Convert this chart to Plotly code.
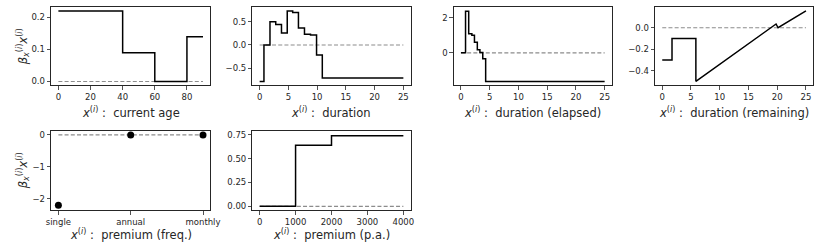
import plotly.graph_objects as go

# ---------------- data ----------------
age_edges = [0, 40, 60, 80, 90]
age_vals = [0.22, 0.09, 0.0, 0.14]

dur_edges = [0, 0.75, 1.8, 2.8, 3.8, 4.8, 5.75, 6.75, 7.8, 8.85, 9.9, 10.9, 25]
dur_vals = [-0.786, 0.0, 0.5, 0.443, 0.257, 0.73, 0.70, 0.364, 0.229, 0.214, -0.214, -0.71]

ela_edges = [0, 0.8, 1.35, 1.9, 2.35, 2.85, 3.3, 3.8, 4.3, 25]
ela_vals = [0.0, 2.36, 1.08, 1.0, 0.6, 0.17, 0.02, -0.34, -1.62]

rem_x = [0, 1.7, 1.7, 5.85, 5.85, 19.8, 20.15, 25]
rem_y = [-0.30, -0.30, -0.10, -0.10, -0.50, 0.035, 0.0, 0.157]

freq_cats = ["single", "annual", "monthly"]
freq_vals = [-2.21, 0.0, 0.0]

prem_edges = [0, 1000, 2000, 4000]
prem_vals = [0.0, 0.64, 0.74]

xlabels = ["current age", "duration", "duration (elapsed)", "duration (remaining)",
           "premium (freq.)", "premium (p.a.)"]

# ---------------- layout helpers ----------------
W, H = 831, 251
# panel boxes in page pixels: (left, right, top, bottom)
boxes = [
    (47, 209, 6, 85),
    (252, 413, 6, 85),
    (457, 618, 6, 85),
    (662, 823, 6, 85),
    (47, 209, 131, 211),
    (252, 413, 131, 211),
]
xranges = [[-4.5, 94.5], [-1.25, 26.25], [-1.25, 26.25], [-1.25, 26.25], [-0.1, 2.1], [-200, 4200]]
yranges = [[-0.012, 0.233], [-0.87, 0.82], [-1.84, 2.6], [-0.537, 0.194], [-2.37, 0.125], [-0.042, 0.79]]
xticks = [[0, 20, 40, 60, 80], [0, 5, 10, 15, 20, 25], [0, 5, 10, 15, 20, 25], [0, 5, 10, 15, 20, 25],
          [0, 1, 2], [0, 1000, 2000, 3000, 4000]]
yticks = [[0.0, 0.1, 0.2], [-0.5, 0.0, 0.5], [0, 2], [-0.4, -0.2, 0.0], [-2, -1, 0], [0.0, 0.25, 0.5, 0.75]]
ytext = [["0.0", "0.1", "0.2"], ["\u22120.5", "0.0", "0.5"], ["0", "2"], ["\u22120.4", "\u22120.2", "0.0"],
         ["\u22122", "\u22121", "0"], ["0.00", "0.25", "0.50", "0.75"]]
xtext = [None, None, None, None, freq_cats, None]

FONT = "DejaVu Sans"
TXT = "#262626"
AX = "#262626"


def px_x(p):
    return p / W


def px_y(p):
    return 1 - p / H


fig = go.Figure()


def step_xy(edges, vals):
    return edges, list(vals) + [vals[-1]]


series = [
    step_xy(age_edges, age_vals),
    step_xy(dur_edges, dur_vals),
    step_xy(ela_edges, ela_vals),
    (rem_x, rem_y),
    None,
    step_xy(prem_edges, prem_vals),
]
zero_span = [(0, 90), (0, 25), (0, 25), (0, 25), (0, 2), (0, 4000)]

for i in range(6):
    xa = "x" if i == 0 else f"x{i+1}"
    ya = "y" if i == 0 else f"y{i+1}"
    # dashed zero line
    fig.add_trace(go.Scatter(x=list(zero_span[i]), y=[0, 0], mode="lines", xaxis=xa, yaxis=ya,
                             line=dict(color="#8c8c8c", width=1.2, dash="4px,2.2px"),
                             showlegend=False, hoverinfo="skip"))
    if i == 4:
        fig.add_trace(go.Scatter(x=[0, 1, 2], y=freq_vals, mode="markers", xaxis=xa, yaxis=ya,
                                 marker=dict(color="black", size=7), cliponaxis=False,
                                 showlegend=False))
    else:
        sx, sy = series[i]
        fig.add_trace(go.Scatter(x=sx, y=sy, mode="lines", xaxis=xa, yaxis=ya,
                                 line=dict(color="black", width=1.5,
                                           shape="linear" if i == 3 else "hv"),
                                 showlegend=False))

    l, r, t, b = boxes[i]
    xkey = "xaxis" if i == 0 else f"xaxis{i+1}"
    ykey = "yaxis" if i == 0 else f"yaxis{i+1}"
    xdict = dict(domain=[px_x(l), px_x(r)], range=xranges[i], anchor=ya,
                 showline=True, mirror=True, linecolor=AX, linewidth=1,
                 ticks="outside", ticklen=3.5, tickwidth=0.8, tickcolor=AX,
                 showgrid=False, zeroline=False, tickvals=xticks[i],
                 tickfont=dict(family=FONT, size=8.5, color=TXT))
    if xtext[i] is not None:
        xdict["ticktext"] = xtext[i]
    ydict = dict(domain=[px_y(b), px_y(t)], range=yranges[i], anchor=xa,
                 showline=True, mirror=True, linecolor=AX, linewidth=1,
                 ticks="outside", ticklen=3.5, tickwidth=0.8, tickcolor=AX,
                 showgrid=False, zeroline=False, tickvals=yticks[i], ticktext=ytext[i],
                 tickfont=dict(family=FONT, size=8.5, color=TXT))
    fig.layout[xkey] = xdict
    fig.layout[ykey] = ydict

    # x label
    ly = 112 if i < 4 else 235
    fig.add_annotation(x=px_x((l + r) / 2), y=px_y(ly), xref="paper", yref="paper",
                       text="<i>x</i><sup>(<i>i</i>)</sup> :  " + xlabels[i],
                       showarrow=False, xanchor="center", yanchor="middle",
                       font=dict(family=FONT, size=11.5, color=TXT))

# y labels
for cy in (46, 171):
    fig.add_annotation(x=px_x(18), y=px_y(cy), xref="paper", yref="paper",
                       text="<i>\u03b2</i><sub><i>x</i></sub><sup>(<i>i</i>)</sup><i>x</i><sup>(<i>i</i>)</sup>",
                       textangle=-90, showarrow=False, xanchor="center", yanchor="middle",
                       font=dict(family=FONT, size=11.5, color=TXT))

fig.update_layout(width=W, height=H, margin=dict(l=0, r=0, t=0, b=0),
                  plot_bgcolor="white", paper_bgcolor="white", showlegend=False,
                  hovermode=False)

fig.write_html("out.html", config={"displayModeBar": False, "staticPlot": True},
               post_script="document.body.style.margin='0px';document.body.style.overflow='hidden';")
